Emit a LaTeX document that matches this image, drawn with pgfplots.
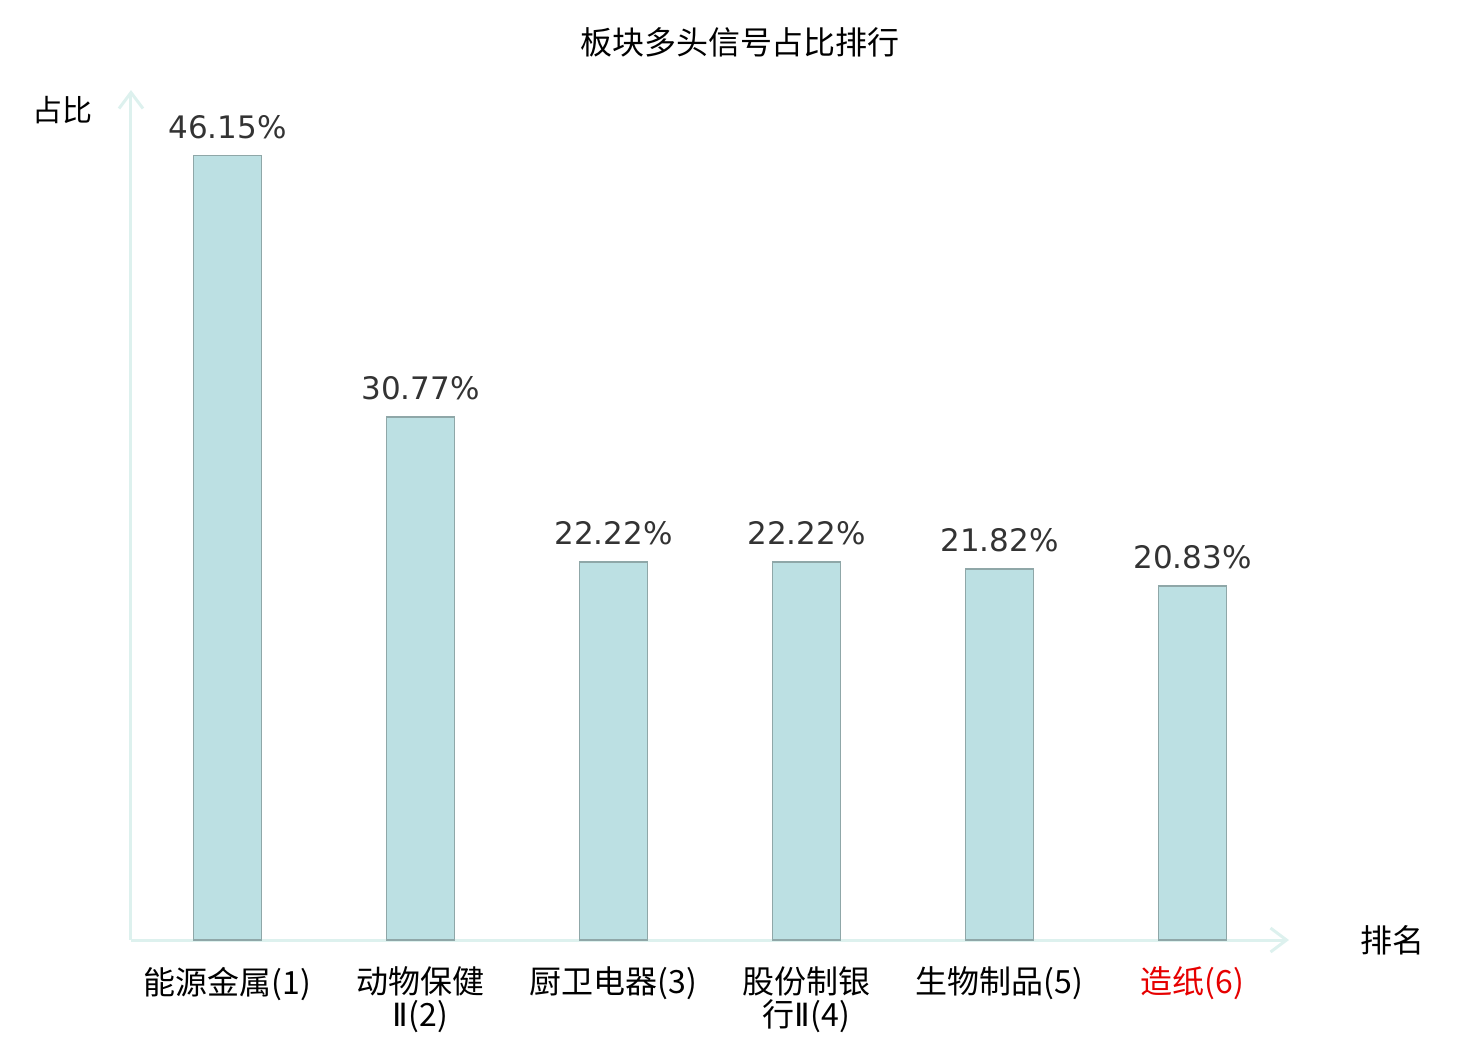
\documentclass[border=0pt]{standalone}
\usepackage{pgfplots}
\pgfplotsset{compat=1.18}
\usetikzlibrary{arrows.meta}
\usepackage{fontspec}
\setmainfont{Noto Sans CJK SC}
\newfontfamily\dejavu{DejaVu Sans}
\newfontfamily\dejavul{DejaVu Sans ExtraLight}
\definecolor{axcol}{HTML}{DDF1EE}
\definecolor{barfill}{HTML}{BCE0E3}
\definecolor{barline}{HTML}{8FA7A8}
\definecolor{valcol}{HTML}{333333}
\definecolor{redlab}{HTML}{E60000}
\newcommand{\RII}{{\dejavu Ⅱ}}
\begin{document}
\begin{tikzpicture}
\useasboundingbox (-65pt,-50pt) rectangle (675pt,470pt);
\begin{axis}[
  at={(0.5pt,0)}, anchor=south west,
  scale only axis,
  width=579pt, height=425pt,
  xmin=-0.5, xmax=5.5, ymin=0, ymax=50,
  axis lines=left,
  axis line style={draw=axcol, line width=1.5pt, -{Straight Barb[length=8pt,width=12pt,line width=1.5pt]}},
  clip=false,
  ytick=\empty,
  xtick={0,1,2,3,4,5},
  xticklabels={能源金属(1),{动物保健\\\RII(2)},厨卫电器(3),{股份制银\\行\RII(4)},生物制品(5),\textcolor{redlab}{造纸(6)}},
  major tick length=0pt,
  xticklabel style={align=center, font=\fontsize{16}{16.5}\selectfont, text=black, anchor=north, yshift=-10pt},
  ybar, bar width=34pt,
  /pgf/number format/assume math mode=true,
  nodes near coords={\pgfmathprintnumber[fixed,precision=2,fixed zerofill,assume math mode=true]{\pgfplotspointmeta}\%},
  point meta=y,
  every node near coord/.append style={font=\dejavu\fontsize{15.5}{18}\selectfont, text=valcol, inner sep=0pt, anchor=south, yshift=8pt},
]
\addplot[fill=barfill, draw=barline, line width=0.9pt] coordinates {(0,46.15) (1,30.77) (2,22.22) (3,22.22) (4,21.82) (5,20.83)};
\end{axis}
\node[font=\fontsize{16}{17}\selectfont, anchor=center] at (305pt,449pt) {板块多头信号占比排行};
\node[font=\fontsize{15}{16}\selectfont, anchor=center] at (-33.5pt,415pt) {占比};
\node[font=\fontsize{16}{17}\selectfont, anchor=center] at (631pt,0pt) {排名};
\end{tikzpicture}
\end{document}
